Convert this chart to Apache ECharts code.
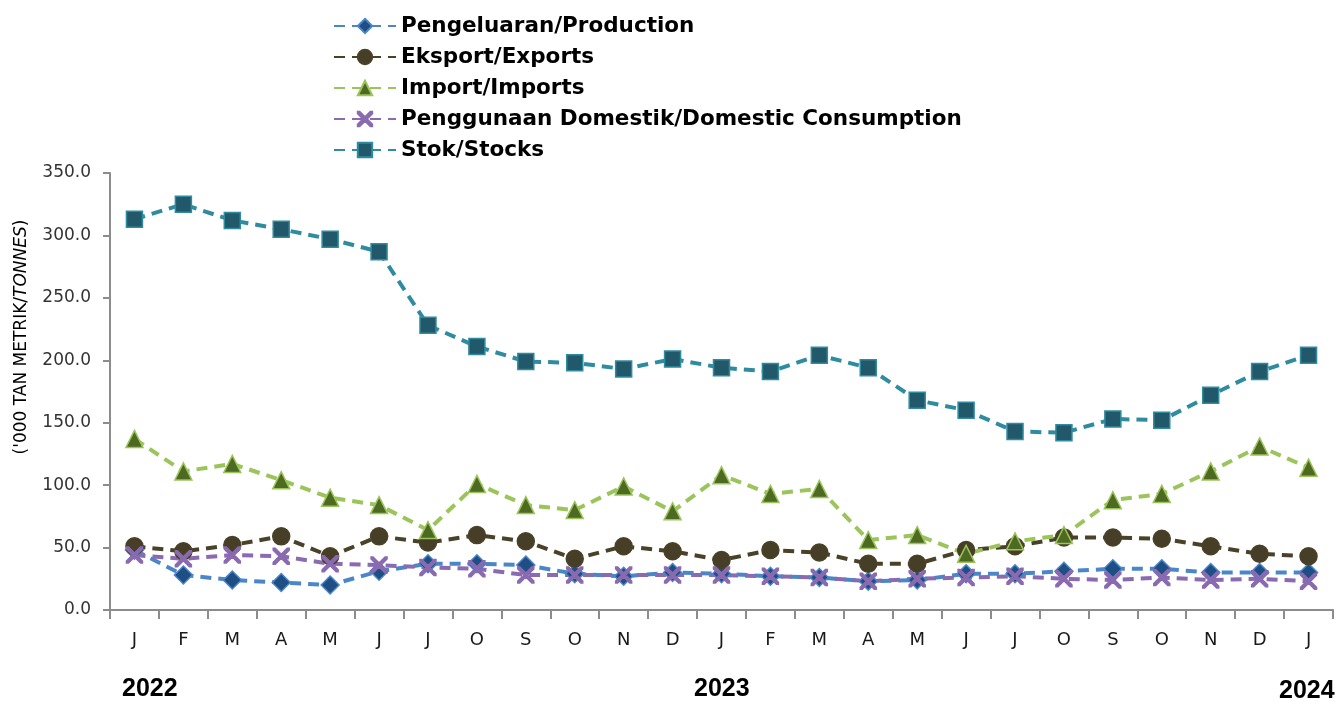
<!DOCTYPE html>
<html>
<head>
<meta charset="utf-8">
<script src="https://cdn.jsdelivr.net/npm/echarts@6/dist/echarts.min.js"></script>
<style>
html, body { margin: 0; padding: 0; background: #fff; }
#chart { width: 1341px; height: 704px; }
</style>
</head>
<body>
<div id="chart"></div>
<script>
// bulan Jan 2022 - Jan 2024
const months = ['J','F','M','A','M','J','J','O','S','O','N','D',
                'J','F','M','A','M','J','J','O','S','O','N','D','J'];
const yTicks = [0, 50, 100, 150, 200, 250, 300, 350];

const production = [48, 28, 24, 22, 20, 31, 37, 37, 36, 29, 27, 30,
                    29, 27, 26, 23, 24, 29, 29, 31, 33, 33, 30, 30, 30];
const exportsData = [51, 47, 52, 59, 43, 59, 54, 60, 55, 41, 51, 47,
                     40, 48, 46, 37, 37, 48, 51, 58, 58, 57, 51, 45, 43];
const importsData = [137, 111, 117, 104, 90, 84, 64, 101, 84, 80, 99, 79,
                     108, 93, 97, 56, 60, 45, 55, 60, 88, 93, 111, 131, 114];
const domestic = [44, 41, 44, 43, 37, 36, 34, 33, 28, 28, 28, 28,
                  28, 27, 26, 23, 25, 26, 27, 25, 24, 26, 24, 25, 23];
const stocks = [313, 325, 312, 305, 297, 287, 228, 211, 199, 198, 193, 201,
                194, 191, 204, 194, 168, 160, 143, 142, 153, 152, 172, 191, 204];

const xMark = 'path://M0,0 L2.5,0 L10,7.5 L17.5,0 L20,0 L20,2.5 L12.5,10 L20,17.5 L20,20 L17.5,20 L10,12.5 L2.5,20 L0,20 L0,17.5 L7.5,10 L0,2.5 Z';

function mkLine(name, data, lineColor, markColor, symbol, size) {
    return {
        name: name,
        type: 'line',
        data: data,
        symbol: symbol,
        symbolSize: size,
        lineStyle: { color: lineColor, width: 4, type: [11, 7] },
        itemStyle: { color: markColor, borderColor: lineColor, borderWidth: 1.5 },
        emphasis: { disabled: true },
        z: 2
    };
}

let chart = echarts.init(document.getElementById('chart'));
let option = {
    animation: false,
    grid: { left: 110, right: 8, top: 173, bottom: 94 },
    legend: {
        orient: 'vertical',
        left: 328,
        top: 10,
        itemWidth: 62,
        itemHeight: 18,
        itemGap: 9,
        textStyle: { fontFamily: 'DejaVu Sans', fontWeight: 'bold', fontSize: 21.5, lineHeight: 22, color: '#000' },
        data: ['Pengeluaran/Production', 'Eksport/Exports', 'Import/Imports',
               'Penggunaan Domestik/Domestic Consumption', 'Stok/Stocks']
    },
    xAxis: {
        type: 'category',
        data: months,
        boundaryGap: true,
        axisLine: { lineStyle: { color: '#8c8c8c', width: 2 } },
        axisTick: { show: true, interval: 0, length: 9, lineStyle: { color: '#8c8c8c', width: 2 } },
        axisLabel: { interval: 0, margin: 21, fontFamily: 'DejaVu Sans', fontSize: 18, color: '#1a1a1a' }
    },
    yAxis: {
        type: 'value',
        min: yTicks[0],
        max: yTicks[yTicks.length - 1],
        interval: 50,
        splitLine: { show: false },
        axisLine: { show: true, lineStyle: { color: '#8c8c8c', width: 2 } },
        axisTick: { show: true, length: 7, lineStyle: { color: '#8c8c8c', width: 2 } },
        axisLabel: {
            margin: 19, fontFamily: 'DejaVu Sans', fontSize: 17, color: '#333',
            formatter: function (v) { return v.toFixed(1); }
        }
    },
    graphic: [
        {
            type: 'text', x: 22, y: 337, rotation: Math.PI / 2,
            style: {
                text: "{a|('000 TAN METRIK/}{b|TONNES}{a|)}",
                align: 'center', verticalAlign: 'middle',
                rich: {
                    a: { fontFamily: 'DejaVu Sans', fontSize: 17, fill: '#000' },
                    b: { fontFamily: 'DejaVu Sans', fontSize: 17, fill: '#000', fontStyle: 'italic' }
                }
            }
        },
        { type: 'text', left: 122, top: 677, style: { text: '2022', font: 'bold 25px "Liberation Sans"', fill: '#000' } },
        { type: 'text', left: 694, top: 677, style: { text: '2023', font: 'bold 25px "Liberation Sans"', fill: '#000' } },
        { type: 'text', left: 1279, top: 679, style: { text: '2024', font: 'bold 25px "Liberation Sans"', fill: '#000' } }
    ],
    series: [
        mkLine('Pengeluaran/Production', production, '#4a86c8', '#1f4e85', 'diamond', 18),
        mkLine('Eksport/Exports', exportsData, '#4a4228', '#463e26', 'circle', 17),
        mkLine('Import/Imports', importsData, '#9bc45a', '#4e6a22', 'triangle', 17),
        mkLine('Penggunaan Domestik/Domestic Consumption', domestic, '#8a6ab0', '#8a6ab0', xMark, 16),
        mkLine('Stok/Stocks', stocks, '#2f8ca0', '#22596a', 'rect', 16)
    ]
};
chart.setOption(option);
</script>
</body>
</html>
